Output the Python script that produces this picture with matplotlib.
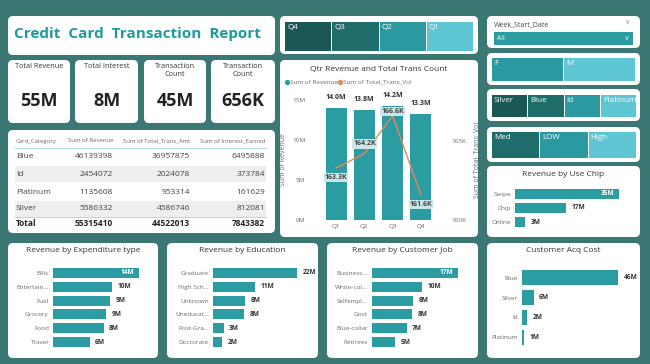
import matplotlib.pyplot as plt
from matplotlib.patches import FancyBboxPatch, Rectangle

plt.rcParams['font.family'] = ['Open Sans', 'DejaVu Sans']

W, H = 650, 364

# ---- data ----
kpi_labels = ['Total Revenue', 'Total Interest', 'Transaction\nCount', 'Transaction\nCount']
kpi_values = ['55M', '8M', '45M', '656K']

table_cols = ['Card_Category', 'Sum of Revenue', 'Sum of Total_Trans_Amt', 'Sum of Interest_Earned']
card_cats = ['Blue', 'Id', 'Platinum', 'Silver']
card_revenue = [46139398, 2454072, 1135608, 5586332]
card_trans_amt = [36957875, 2024078, 953314, 4586746]
card_interest = [6495888, 373784, 161629, 812081]

quarters = ['Q1', 'Q2', 'Q3', 'Q4']
qtr_revenue = [14.0e6, 13.8e6, 14.2e6, 13.3e6]
qtr_trans_vol = [163.3e3, 164.2e3, 166.6e3, 161.6e3]

exp_types = ['Bills', 'Entertain...', 'Fuel', 'Grocery', 'Food', 'Travel']
exp_revenue = [14.1, 9.7, 9.4, 8.7, 8.3, 6.0]

edu_levels = ['Graduate', 'High Sch...', 'Unknown', 'Uneducat...', 'Post-Gra...', 'Doctorate']
edu_revenue = [22.0, 11.0, 8.4, 8.1, 2.8, 2.4]

jobs = ['Business...', 'White-col...', 'Selfempl...', 'Govt', 'Blue-collar', 'Retirees']
job_revenue = [17.4, 10.2, 8.3, 8.1, 7.0, 4.6]

acq_cats = ['Blue', 'Silver', 'Id', 'Platinum']
acq_cost = [46.1, 5.6, 2.5, 1.1]

chip_types = ['Swipe', 'Chip', 'Online']
chip_revenue = [35.0, 17.1, 3.3]

qtr_slicer = ['Q4', 'Q3', 'Q2', 'Q1']
gender_slicer = ['F', 'M']
card_slicer = ['Silver', 'Blue', 'Id', 'Platinum']
income_slicer = ['Med', 'LOW', 'High']

# ---- colours ----
BG = '#3b7874'
BAR = '#2b9ca2'
LINE = '#e8895a'
DARK = '#333333'
GREY = '#6a6a6a'
SHADES = ['#1b5755', '#1e6d6a', '#2a9aa0', '#5ec5d2']

fig = plt.figure(figsize=(6.5, 3.64), dpi=100)
fig.patch.set_facecolor(BG)

# background axes in pixel units
bg = fig.add_axes([0, 0, 1, 1])
bg.set_xlim(0, W)
bg.set_ylim(H, 0)
bg.axis('off')


def panel(x0, y0, x1, y1, r=5):
    bg.add_patch(FancyBboxPatch((x0 + r, y0 + r), x1 - x0 - 2 * r, y1 - y0 - 2 * r,
                                boxstyle=f'round,pad={r}', fc='white', ec='none'))


def box(x0, y0, x1, y1):
    return [x0 / W, 1 - y1 / H, (x1 - x0) / W, (y1 - y0) / H]


# ---- title ----
panel(8, 16, 275, 55)
bg.text(137, 34, 'Credit  Card  Transaction  Report', ha='center', va='center',
        fontsize=11, fontweight='bold', color='#1e9a9c')

# ---- KPI cards ----
kpi_x = [(8, 70), (75, 138), (144, 206), (211, 275)]
for (x0, x1), lab, val in zip(kpi_x, kpi_labels, kpi_values):
    panel(x0, 60, x1, 123)
    bg.text((x0 + x1) / 2, 63, lab, ha='center', va='top', fontsize=5.2,
            color=DARK, linespacing=1.3)
    bg.text((x0 + x1) / 2, 101, val, ha='center', va='center', fontsize=13,
            fontweight='bold', color='#222222')

# ---- table ----
panel(8, 130, 275, 233)
col_right = [None, 113, 190, 265]
bg.text(16, 141, table_cols[0], ha='left', va='center', fontsize=4.3, color=GREY)
for c in range(1, 4):
    bg.text(col_right[c], 141, table_cols[c], ha='right', va='center', fontsize=4.3, color=GREY)
bg.plot([15, 266], [148, 148], color='#9fd3dd', lw=0.6)
row_y = [157, 174, 192, 209]
for i, (cat, a, b, c) in enumerate(zip(card_cats, card_revenue, card_trans_amt, card_interest)):
    if i % 2 == 1:
        bg.add_patch(Rectangle((15, row_y[i] - 8), 251, 16, fc='#eeeeee', ec='none'))
    bg.text(16, row_y[i], cat, ha='left', va='center', fontsize=6, color='#444444')
    for x, v in zip(col_right[1:], (a, b, c)):
        bg.text(x, row_y[i], f'{v}', ha='right', va='center', fontsize=6, color='#444444')
bg.plot([15, 266], [216.5, 216.5], color='#9fd3dd', lw=0.6)
bg.text(16, 224, 'Total', ha='left', va='center', fontsize=6, fontweight='bold', color='#222222')
for x, vals in zip(col_right[1:], (card_revenue, card_trans_amt, card_interest)):
    bg.text(x, 224, f'{sum(vals)}', ha='right', va='center', fontsize=6,
            fontweight='bold', color='#222222')


# ---- slicers ----
def tiles(labels, x0, x1, y0, y1, colors):
    w = (x1 - x0) / len(labels)
    for i, (lab, col) in enumerate(zip(labels, colors)):
        bg.add_patch(Rectangle((x0 + i * w, y0), w - 1, y1 - y0, fc=col, ec='none'))
        bg.text(x0 + i * w + 2, y0 + 2, lab, ha='left', va='top', fontsize=5.8, color='white')


panel(280, 16, 478, 54)
tiles(qtr_slicer, 285, 474, 22, 51, SHADES)

panel(487, 16, 640, 48)
bg.text(494, 25, 'Week_Start_Date', ha='left', va='center', fontsize=5, color='#444444')
bg.text(628, 23, 'v', ha='center', va='center', fontsize=5, color='#888888')
bg.add_patch(Rectangle((494, 32), 139, 13, fc=BAR, ec='none'))
bg.text(497, 39, 'All', ha='left', va='center', fontsize=4.8, color='white')
bg.text(627, 38.5, 'v', ha='center', va='center', fontsize=5.5, color='white')

panel(487, 53, 640, 85)
tiles(gender_slicer, 492, 636, 58, 81, SHADES[2:])
panel(487, 89, 640, 121)
tiles(card_slicer, 492, 637, 95, 117, SHADES)
panel(487, 127, 640, 162)
tiles(income_slicer, 492, 637, 132, 158, SHADES[1:])

# ---- combo chart ----
panel(280, 60, 478, 237)
bg.text(379, 69, 'Qtr Revenue and Total Trans Count', ha='center', va='center',
        fontsize=6, color=DARK)
bg.plot([287], [82], 'o', ms=2.8, color=BAR)
bg.text(290, 82, 'Sum of Revenue', ha='left', va='center', fontsize=4.6, color=GREY)
bg.plot([340], [82], 'o', ms=2.8, color=LINE)
bg.text(343, 82, 'Sum of Total_Trans_Vol', ha='left', va='center', fontsize=4.6, color=GREY)

ax = fig.add_axes(box(322, 100, 435, 220))
x = range(len(quarters))
ax.bar(x, qtr_revenue, width=0.75, color=BAR)
ax.set_ylim(0, 15e6)
ax.set_xlim(-0.5, 3.5)
ax.set_yticks([0, 5e6, 10e6, 15e6])
ax.set_yticklabels(['0M', '5M', '10M', '15M'])
ax.set_xticks(list(x))
ax.set_xticklabels(quarters)
ax.tick_params(length=0, labelsize=4.6, colors=GREY, pad=12)
ax.tick_params(axis='x', pad=3)
for s in ax.spines.values():
    s.set_visible(False)
ax.set_facecolor('none')
ax.set_ylabel('Sum of Revenue', fontsize=5, color=GREY, labelpad=4)
for xi, v in zip(x, qtr_revenue):
    ax.annotate(f'{v / 1e6:.1f}M', (xi, v), xytext=(0, 5), textcoords='offset points',
                ha='center', va='bottom', fontsize=5, fontweight='bold', color=DARK)

ax2 = ax.twinx()
ax2.plot(list(x), qtr_trans_vol, color=LINE, lw=1)
ax2.set_ylim(160000, 167600)
ax2.set_yticks([160000, 165000])
ax2.set_yticklabels(['160K', '165K'])
ax2.tick_params(length=0, labelsize=4.6, colors=GREY, pad=12)
for s in ax2.spines.values():
    s.set_visible(False)
ax2.set_ylabel('Sum of Total_Trans_Vol', fontsize=5, color=GREY, labelpad=5)
label_dy = [-7, 7, 3, -7]
for xi, v, dy in zip(x, qtr_trans_vol, label_dy):
    ax2.annotate(f'{v / 1e3:.1f}K', (xi, v), xytext=(0, dy), textcoords='offset points',
                 ha='center', va='center', fontsize=5, fontweight='bold', color='#444444',
                 bbox=dict(boxstyle='square,pad=0.15', fc='#c9e7e8', ec='none'))


# ---- horizontal bar charts ----
def hbar(title, pbox, ab, labels, values, bar_h=0.72, inside_max=True):
    x0, y0, x1, y1 = pbox
    panel(x0, y0, x1, y1)
    bg.text((x0 + x1) / 2, y0 + 8, title, ha='center', va='center', fontsize=6, color=DARK)
    a = fig.add_axes(box(*ab))
    n = len(values)
    a.barh(range(n), values, height=bar_h, color=BAR)
    a.set_xlim(0, max(values))
    a.set_ylim(n - 0.5, -0.5)
    a.set_yticks(range(n))
    a.set_yticklabels(labels)
    a.set_xticks([])
    a.tick_params(length=0, labelsize=4.6, colors=GREY, pad=3)
    for s in a.spines.values():
        s.set_visible(False)
    a.set_facecolor('none')
    vmax = max(values)
    for i, v in enumerate(values):
        if v == vmax and inside_max:
            a.annotate(f'{v:.0f}M', (v, i), xytext=(-3, 0), textcoords='offset points',
                       ha='right', va='center', fontsize=4.8, fontweight='bold', color='white')
        else:
            a.annotate(f'{v:.0f}M', (v, i), xytext=(4, 0), textcoords='offset points',
                       ha='left', va='center', fontsize=4.8, fontweight='bold',
                       color=DARK, annotation_clip=False)


hbar('Revenue by Use Chip', (487, 166, 640, 237), (515, 187, 619, 229),
     chip_types, chip_revenue)
hbar('Revenue by Expenditure type', (8, 243, 158, 358), (53, 266, 139, 349),
     exp_types, exp_revenue)
hbar('Revenue by Education', (167, 243, 318, 358), (213, 266, 297, 349),
     edu_levels, edu_revenue, inside_max=False)
hbar('Revenue by Customer Job', (327, 243, 478, 358), (372, 266, 458, 349),
     jobs, job_revenue)
hbar('Customer Acq Cost', (487, 243, 640, 358), (522, 268, 618, 347),
     acq_cats, acq_cost, bar_h=0.75, inside_max=False)

fig.savefig('out.png', dpi=100, facecolor=BG)
